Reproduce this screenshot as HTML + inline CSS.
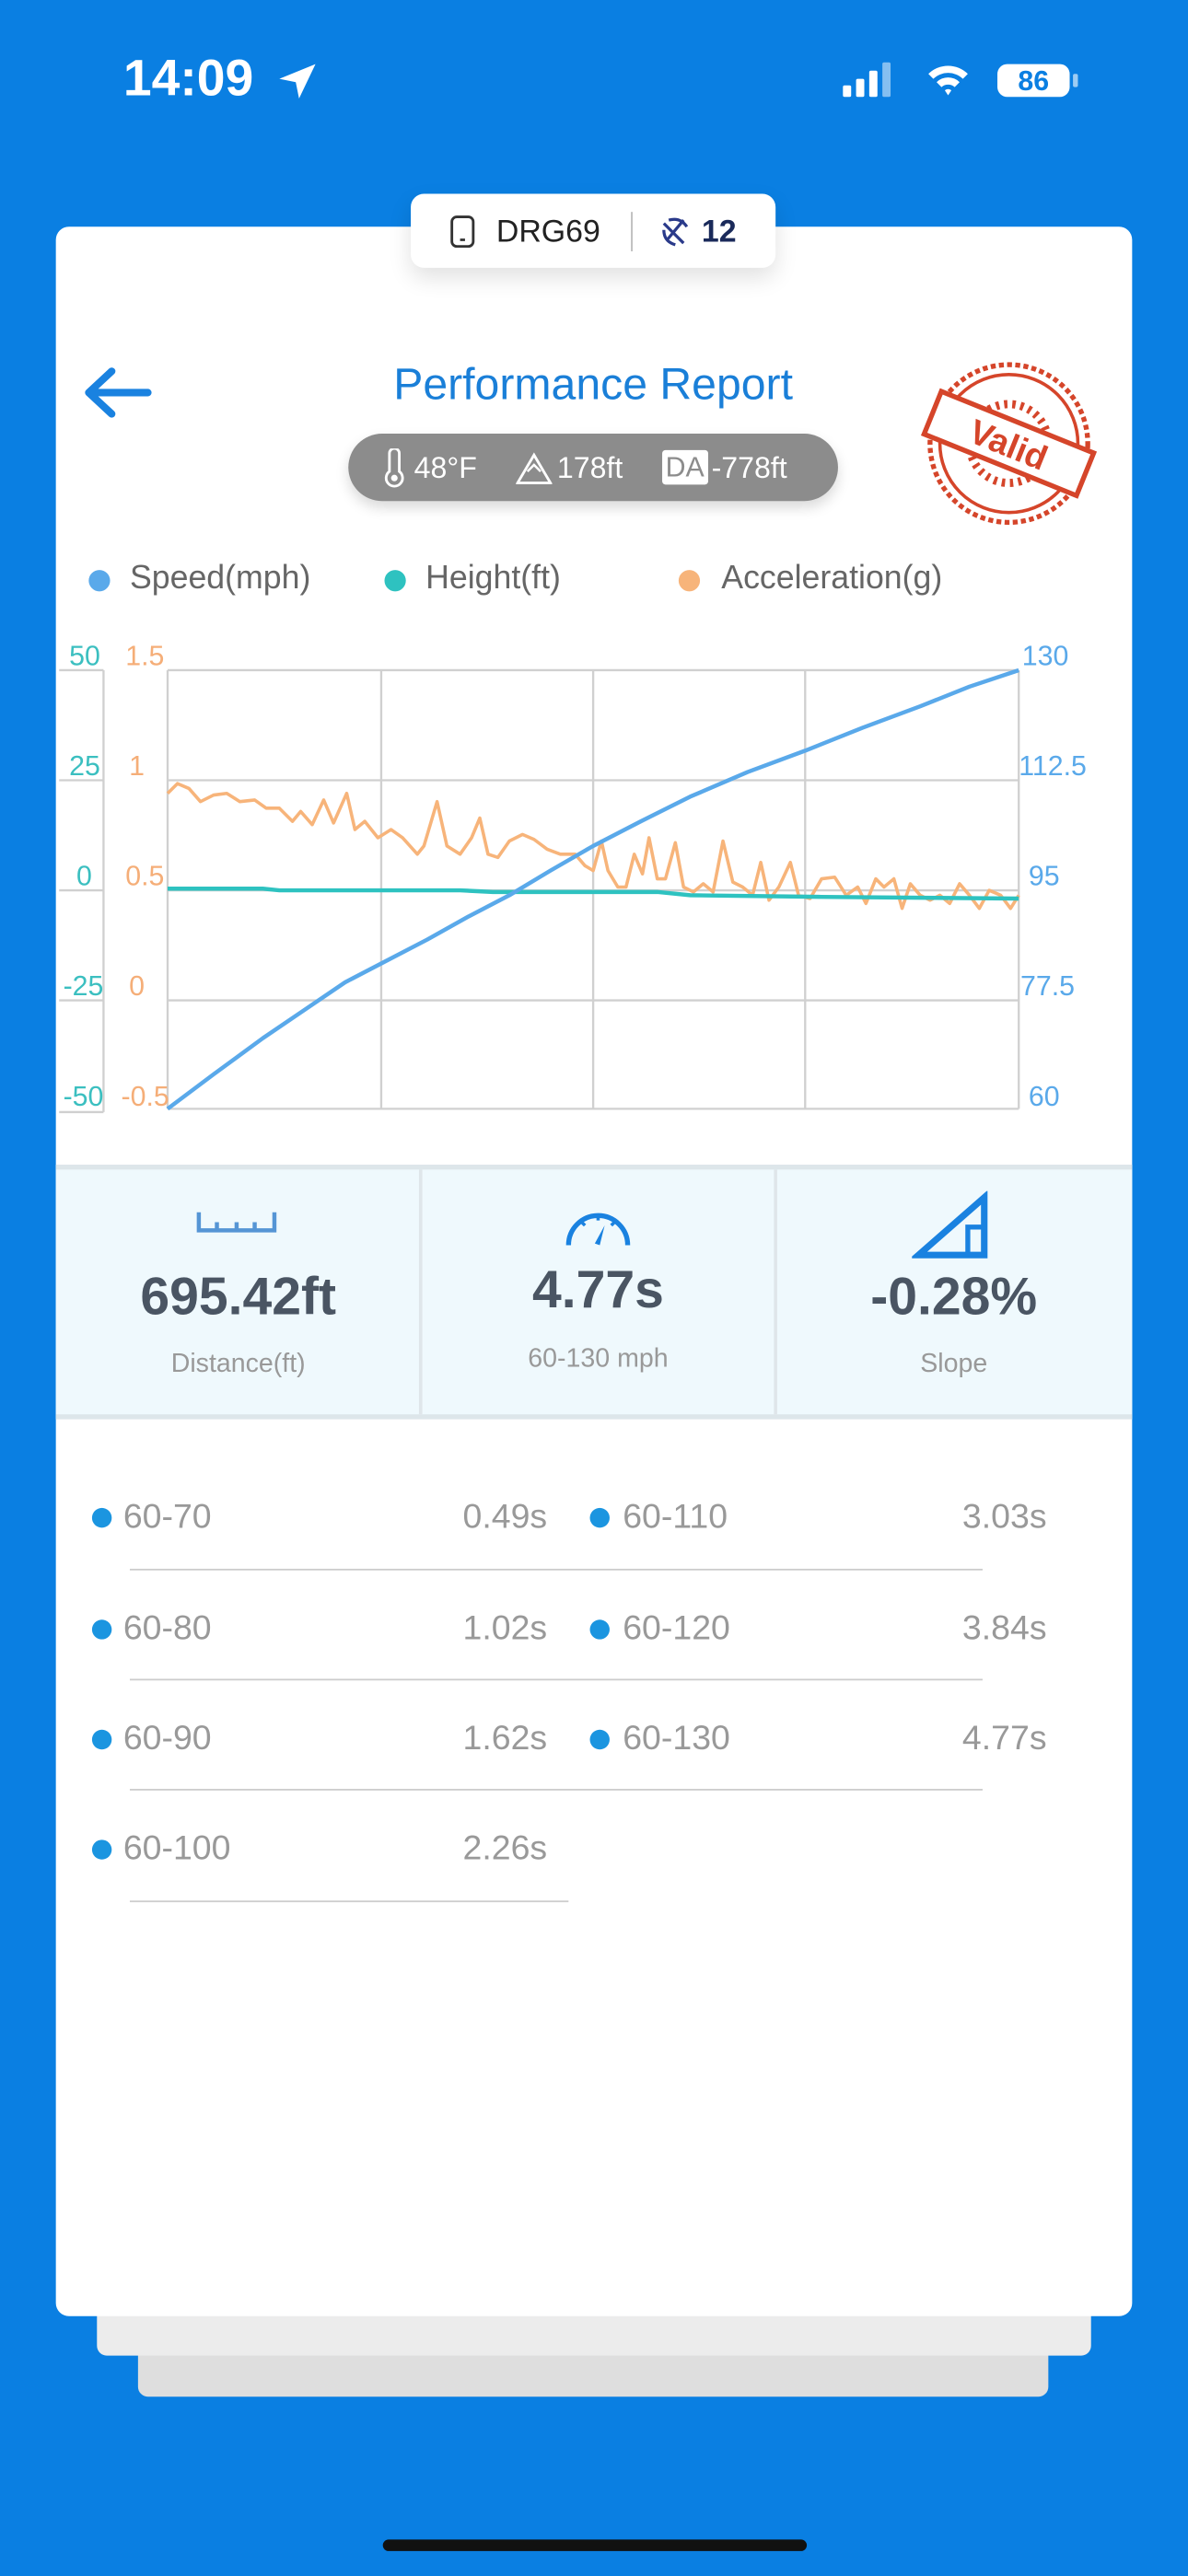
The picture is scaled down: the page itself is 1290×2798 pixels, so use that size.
<!DOCTYPE html>
<html><head><meta charset="utf-8"><style>
*{margin:0;padding:0;box-sizing:border-box}
html,body{width:1290px;height:2796px;overflow:hidden;background:#0a7fe2}
#s{position:absolute;left:0;top:0;width:723px;height:1568px;transform:scale(1.78423);transform-origin:0 0;font-family:"Liberation Sans",sans-serif}
.a{position:absolute}
</style></head><body><div id="s">
<!-- status bar -->
<div class="a" style="left:75px;top:30px;color:#fff;font-weight:bold;font-size:31px">14:09</div>
<svg class="a" style="left:166px;top:36px" width="28" height="26" viewBox="0 0 28 24"><path d="M26 2 L4 11 L14 13 L16 23 Z" fill="#fff"/></svg>
<svg class="a" style="left:510px;top:37px" width="150" height="24" viewBox="0 0 150 24">
<rect x="3" y="15" width="5" height="7" rx="1" fill="#fff"/><rect x="11" y="11" width="5" height="11" rx="1" fill="#fff"/><rect x="19" y="6" width="5" height="16" rx="1" fill="#fff"/><rect x="27" y="1" width="5" height="21" rx="1" fill="#fff" opacity=".5"/>
<path d="M55 8 A17 17 0 0 1 79 8 L76 11 A13 13 0 0 0 58 11Z M60 13 A10 10 0 0 1 74 13 L71 16 A6 6 0 0 0 63 16Z M65 18 A3 3 0 0 1 69 18 L67 21Z" fill="#fff"/>
<rect x="97" y="2" width="44" height="20" rx="6" fill="#fff"/><rect x="143" y="8" width="3" height="8" rx="1" fill="#fff" opacity=".6"/>
<text x="119" y="18" text-anchor="middle" font-family="Liberation Sans" font-weight="bold" font-size="17" fill="#0a7fe2">86</text></svg>
<!-- stacked cards -->
<div class="a" style="left:84px;top:1400px;width:554px;height:59px;background:#dedede;border-radius:6px"></div>
<div class="a" style="left:59px;top:1390px;width:605px;height:44px;background:#ececec;border-radius:6px"></div>
<div class="a" style="left:34px;top:138px;width:655px;height:1272px;background:#fff;border-radius:8px"></div>
<!-- device pill -->
<div class="a" style="left:250px;top:118px;width:222px;height:45px;background:#fff;border-radius:8px;box-shadow:0 6px 14px rgba(0,0,0,.12)"></div>
<svg class="a" style="left:272px;top:130px" width="20" height="22"><rect x="3" y="2" width="13" height="18" rx="3" fill="none" stroke="#333" stroke-width="1.6"/><line x1="8" y1="16" x2="11" y2="16" stroke="#333" stroke-width="1.5"/></svg>
<div class="a" style="left:302px;top:131px;font-size:19px;color:#222">DRG69</div>
<div class="a" style="left:384px;top:129px;width:1px;height:24px;background:#bbb"></div>
<svg class="a" style="left:400px;top:130px" width="22" height="22"><path d="M4 6 L16 18 M16 4 L6 16 M7 4 Q14 2 18 8 M4 10 Q4 17 11 19" stroke="#2a3a8a" stroke-width="1.8" fill="none"/></svg>
<div class="a" style="left:427px;top:131px;font-size:19px;font-weight:bold;color:#1a2a5a">12</div>
<!-- header -->
<svg class="a" style="left:50px;top:222px" width="46" height="34"><path d="M40 17 H6 M18 4 L4 17 L18 30" stroke="#1a82e0" stroke-width="4.5" fill="none" stroke-linecap="round" stroke-linejoin="round"/></svg>
<div class="a" style="left:161px;top:219px;width:400px;text-align:center;font-size:27px;color:#1a7fd8">Performance Report</div>
<div class="a" style="left:212px;top:264px;width:298px;height:41px;background:#8c8c8c;border-radius:21px;box-shadow:0 4px 8px rgba(0,0,0,.15)"></div>
<svg class="a" style="left:232px;top:273px" width="16" height="24"><path d="M5 3 a3 3 0 0 1 6 0 V14 a5 5 0 1 1 -6 0Z" fill="none" stroke="#fff" stroke-width="1.6"/><circle cx="8" cy="18" r="2" fill="#fff"/></svg>
<div class="a" style="left:252px;top:275px;font-size:18px;color:#fff">48°F</div>
<svg class="a" style="left:314px;top:275px" width="22" height="20"><path d="M1 19 L11 2 L21 19Z" fill="none" stroke="#fff" stroke-width="1.6"/><path d="M7 12 L11 8 L15 12" stroke="#fff" fill="none" stroke-width="1.4"/></svg>
<div class="a" style="left:339px;top:275px;font-size:18px;color:#fff">178ft</div>
<div class="a" style="left:403px;top:274px;height:21px;padding:0 2px;background:#fff;color:#8c8c8c;font-size:17px;border-radius:2px;line-height:21px">DA</div>
<div class="a" style="left:433px;top:275px;font-size:18px;color:#fff">-778ft</div>
<!-- stamp -->
<svg class="a" style="left:560px;top:218px" width="108" height="104" viewBox="0 0 108 104">
<g fill="none" stroke="#d5452a">
<circle cx="54" cy="52" r="48" stroke-width="3" stroke-dasharray="3 2"/>
<circle cx="54" cy="52" r="42" stroke-width="2"/>
<circle cx="54" cy="52" r="24" stroke-width="5" stroke-dasharray="2 3"/>
</g>
<g transform="rotate(22 54 52)"><rect x="4" y="38" width="100" height="28" fill="#fff" stroke="#d5452a" stroke-width="3"/>
<text x="54" y="60" text-anchor="middle" font-family="Liberation Sans" font-weight="bold" font-size="21" fill="#d5452a">Valid</text></g>
</svg>
<!-- legend -->
<div class="a" style="left:54px;top:347px;width:13px;height:13px;border-radius:50%;background:#5aa9ea"></div>
<div class="a" style="left:79px;top:341px;font-size:20px;color:#666">Speed(mph)</div>
<div class="a" style="left:234px;top:347px;width:13px;height:13px;border-radius:50%;background:#2ec2c0"></div>
<div class="a" style="left:259px;top:341px;font-size:20px;color:#666">Height(ft)</div>
<div class="a" style="left:413px;top:347px;width:13px;height:13px;border-radius:50%;background:#f7b47a"></div>
<div class="a" style="left:439px;top:341px;font-size:20px;color:#666">Acceleration(g)</div>
<!-- chart -->
<svg class="a" style="left:0;top:380px" width="723" height="310" viewBox="0 380 723 310" font-family="Liberation Sans" font-size="17">
<g stroke="#d0d0d0" stroke-width="1.3" fill="none">
<line x1="102" y1="408" x2="620" y2="408"/><line x1="102" y1="475" x2="620" y2="475"/><line x1="102" y1="542" x2="620" y2="542"/><line x1="102" y1="609" x2="620" y2="609"/><line x1="102" y1="675" x2="620" y2="675"/>
<line x1="102" y1="408" x2="102" y2="675"/><line x1="232" y1="408" x2="232" y2="675"/><line x1="361" y1="408" x2="361" y2="675"/><line x1="490" y1="408" x2="490" y2="675"/><line x1="620" y1="408" x2="620" y2="675"/>
<line x1="63" y1="408" x2="63" y2="677"/>
<line x1="36" y1="408" x2="63" y2="408"/><line x1="36" y1="475" x2="63" y2="475"/><line x1="36" y1="542" x2="63" y2="542"/><line x1="36" y1="609" x2="63" y2="609"/><line x1="36" y1="677" x2="63" y2="677"/>
</g>
<g fill="#3bbfc0" text-anchor="end"><text x="61" y="405">50</text><text x="61" y="472">25</text><text x="56" y="539">0</text><text x="63" y="606">-25</text><text x="63" y="673">-50</text></g>
<g fill="#f5ae78" text-anchor="end"><text x="100" y="405">1.5</text><text x="88" y="472">1</text><text x="100" y="539">0.5</text><text x="88" y="606">0</text><text x="103" y="673">-0.5</text></g>
<g fill="#5aa9ea"><text x="622" y="405">130</text><text x="620" y="472">112.5</text><text x="626" y="539">95</text><text x="621" y="606">77.5</text><text x="626" y="673">60</text></g>
<polyline fill="none" stroke="#f7b47a" stroke-width="2" stroke-linejoin="round" points="102,483 108,477 115,480 122,488 130,484 138,483 146,488 155,487 162,492 170,492 178,500 183,494 190,502 197,487 203,501 211,483 216,505 222,500 230,510 238,505 245,510 254,520 258,515 266,488 272,515 280,520 287,510 292,498 297,520 303,522 310,512 318,508 325,511 333,517 341,520 350,520 356,527 361,530 366,512 370,530 376,540 381,540 386,520 391,532 395,510 400,535 405,535 411,513 416,540 422,543 428,538 434,543 440,512 446,537 452,540 458,545 463,525 468,548 474,540 481,525 486,545 493,547 500,535 508,534 515,545 522,540 527,550 533,535 538,540 544,535 549,553 554,538 560,545 566,548 572,545 578,550 584,538 590,545 596,553 602,542 609,545 615,553 620,545"/>
<polyline fill="none" stroke="#2ec2c0" stroke-width="2.5" points="102,541 160,541 170,542 280,542 300,543 400,543 420,545 500,546 620,547"/>
<polyline fill="none" stroke="#5aa9ea" stroke-width="2.5" stroke-linejoin="round" points="102,675 130,654 160,632 185,615 210,598 235,585 260,572 285,558 310,545 335,530 361,515 390,500 420,485 455,470 490,457 525,443 560,430 590,418 620,408"/>
</svg>
<!-- stats -->
<div class="a" style="left:34px;top:709px;width:655px;height:155px;background:#eff9fd;border-top:3px solid #dde6ea;border-bottom:3px solid #dde6ea"></div>
<div class="a" style="left:255px;top:712px;width:2px;height:149px;background:#dfe6ea"></div>
<div class="a" style="left:471px;top:712px;width:2px;height:149px;background:#dfe6ea"></div>
<svg class="a" style="left:118px;top:734px" width="52" height="20"><path d="M3 4 V15 H49 V4 M14 10 V15 M26 10 V15 M37 10 V15" stroke="#5595d5" stroke-width="2.5" fill="none"/></svg>
<svg class="a" style="left:342px;top:730px" width="44" height="30"><path d="M4 28 A18 18 0 1 1 40 28" stroke="#1a82e0" stroke-width="3" fill="none"/><path d="M20 27 L26 16 L23 28Z" fill="#1a82e0"/><path d="M22 10 V13 M12 14 L14 16 M32 14 L30 16" stroke="#1a82e0" stroke-width="2"/></svg>
<svg class="a" style="left:555px;top:725px" width="48" height="42"><path d="M4 39 L44 4 V39 Z" stroke="#1a82e0" stroke-width="4" fill="none"/><rect x="34" y="22" width="10" height="17" fill="none" stroke="#1a82e0" stroke-width="3"/></svg>
<div class="a" style="left:34px;top:771px;width:222px;text-align:center;font-size:32px;font-weight:bold;color:#4a5563">695.42ft</div>
<div class="a" style="left:256px;top:767px;width:216px;text-align:center;font-size:32px;font-weight:bold;color:#4a5563">4.77s</div>
<div class="a" style="left:472px;top:771px;width:217px;text-align:center;font-size:32px;font-weight:bold;color:#4a5563">-0.28%</div>
<div class="a" style="left:34px;top:822px;width:222px;text-align:center;font-size:16px;color:#999">Distance(ft)</div>
<div class="a" style="left:256px;top:819px;width:216px;text-align:center;font-size:16px;color:#999">60-130 mph</div>
<div class="a" style="left:472px;top:822px;width:217px;text-align:center;font-size:16px;color:#999">Slope</div>
<!-- splits -->
<div style="font-size:21px;color:#999">
<div class="a" style="left:56px;top:918px;width:12px;height:12px;border-radius:50%;background:#1b95e0"></div><div class="a" style="left:75px;top:912px">60-70</div><div class="a" style="left:233px;top:912px;width:100px;text-align:right">0.49s</div>
<div class="a" style="left:359px;top:918px;width:12px;height:12px;border-radius:50%;background:#1b95e0"></div><div class="a" style="left:379px;top:912px">60-110</div><div class="a" style="left:537px;top:912px;width:100px;text-align:right">3.03s</div>
<div class="a" style="left:79px;top:955px;width:519px;height:1px;background:#ccc"></div>
<div class="a" style="left:56px;top:986px;width:12px;height:12px;border-radius:50%;background:#1b95e0"></div><div class="a" style="left:75px;top:980px">60-80</div><div class="a" style="left:233px;top:980px;width:100px;text-align:right">1.02s</div>
<div class="a" style="left:359px;top:986px;width:12px;height:12px;border-radius:50%;background:#1b95e0"></div><div class="a" style="left:379px;top:980px">60-120</div><div class="a" style="left:537px;top:980px;width:100px;text-align:right">3.84s</div>
<div class="a" style="left:79px;top:1022px;width:519px;height:1px;background:#ccc"></div>
<div class="a" style="left:56px;top:1053px;width:12px;height:12px;border-radius:50%;background:#1b95e0"></div><div class="a" style="left:75px;top:1047px">60-90</div><div class="a" style="left:233px;top:1047px;width:100px;text-align:right">1.62s</div>
<div class="a" style="left:359px;top:1053px;width:12px;height:12px;border-radius:50%;background:#1b95e0"></div><div class="a" style="left:379px;top:1047px">60-130</div><div class="a" style="left:537px;top:1047px;width:100px;text-align:right">4.77s</div>
<div class="a" style="left:79px;top:1089px;width:519px;height:1px;background:#ccc"></div>
<div class="a" style="left:56px;top:1120px;width:12px;height:12px;border-radius:50%;background:#1b95e0"></div><div class="a" style="left:75px;top:1114px">60-100</div><div class="a" style="left:233px;top:1114px;width:100px;text-align:right">2.26s</div>
<div class="a" style="left:79px;top:1157px;width:267px;height:1px;background:#ccc"></div>
</div>
<div class="a" style="left:233px;top:1546px;width:258px;height:7px;border-radius:4px;background:#111"></div>
</div></body></html>
